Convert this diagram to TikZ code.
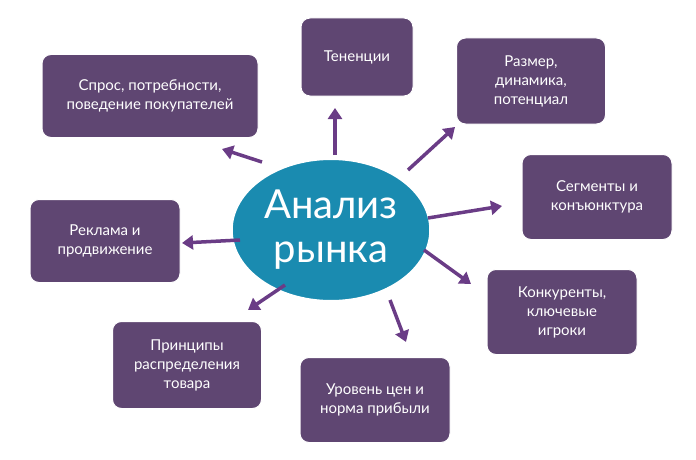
\documentclass[tikz,border=0pt]{standalone}
\usepackage{fontspec}
\setmainfont{Lato}
\usetikzlibrary{arrows.meta,shapes.geometric}
\definecolor{boxc}{HTML}{5F4672}
\definecolor{ellc}{HTML}{1A8BB0}
\definecolor{arrc}{HTML}{6A3C86}
\tikzset{
 box/.style={draw=white,line width=1pt,fill=boxc,rounded corners=9pt,text=white,align=center,font=\fontsize{15}{19}\selectfont,inner sep=0pt},
 arr/.style={draw=arrc,line width=3.5pt,-{Triangle[length=11pt,width=14pt]}}
}
\begin{document}
\begin{tikzpicture}[x=1pt,y=-1pt]
\useasboundingbox (0,0) rectangle (696,460);
\node[draw=white,line width=2pt,fill=ellc,ellipse,minimum width=172pt,minimum height=142pt,text=white,align=center,font=\fontsize{40}{44}\selectfont] (c) at (331,230) {Анализ\\рынка};
\node[box,minimum width=216pt,minimum height=83pt] (b1) at (150,96) {Спрос, потребности,\\поведение покупателей};
\node[box,minimum width=112pt,minimum height=78pt] (b2) at (357,57) {Тененции};
\node[box,minimum width=149pt,minimum height=86pt] (b3) at (531,81) {Размер,\\динамика,\\потенциал};
\node[box,minimum width=150pt,minimum height=85pt] (b4) at (597,197) {Сегменты и\\конъюнктура};
\node[box,minimum width=150pt,minimum height=85pt] (b5) at (562,312) {Конкуренты,\\ключевые\\игроки};
\node[box,minimum width=150pt,minimum height=85pt] (b6) at (375,400) {Уровень цен и\\норма прибыли};
\node[box,minimum width=149pt,minimum height=87pt] (b7) at (187,365) {Принципы\\распределения\\товара};
\node[box,minimum width=150pt,minimum height=83pt] (b8) at (105,241) {Реклама и\\продвижение};
\coordinate (s1) at (262,162); \coordinate (e1) at (222,149);
\coordinate (s2) at (335,155); \coordinate (e2) at (335,108);
\coordinate (s3) at (408,170); \coordinate (e3) at (455,127);
\coordinate (s4) at (428,218); \coordinate (e4) at (502,206);
\coordinate (s5) at (424,250); \coordinate (e5) at (471,284);
\coordinate (s6) at (390,300); \coordinate (e6) at (406,342);
\coordinate (s7) at (285,285); \coordinate (e7) at (248,310);
\coordinate (s8) at (240,240); \coordinate (e8) at (182,243);
\foreach \i in {1,...,8} \draw[arr] (s\i) -- (e\i);
\end{tikzpicture}
\end{document}
